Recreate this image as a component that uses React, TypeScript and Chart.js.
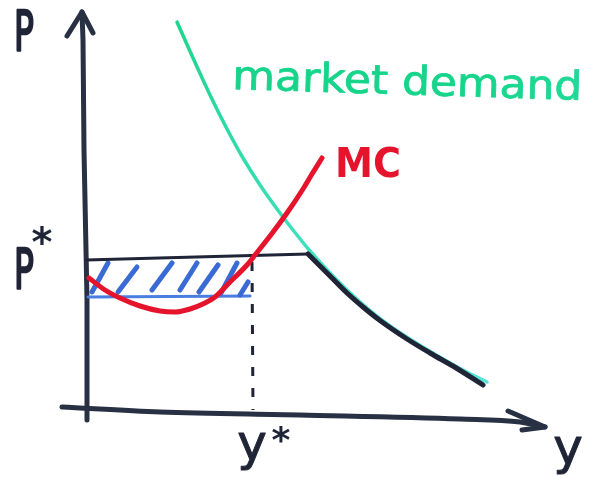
import { useEffect, useRef } from "react";
import { Chart, registerables } from "chart.js";

Chart.register(...registerables);

// ---- scale ranges (data units) ----
const X_MIN = -17.2;
const X_MAX = 100.6;
const Y_MIN = -13.4;
const Y_MAX = 82;

// ---- key levels ----
const P_STAR = 30;
const Y_STAR = 33.2;
const P_LOW = 22.6;
const P_LOW_X = [0.4, 32.8];

// ---- marginal cost curve ----
const mcX = [0.6, 3.8, 6.8, 10.8, 14.8, 17.8, 20.8, 23.8, 25.8, 28.8, 32.2, 33.8, 36.8, 40.2, 43.4, 45.2, 47.2];
const mcY = [26.4, 24, 22.4, 20.8, 19.8, 19.6, 20.2, 21.4, 22.6, 25.6, 29, 31, 34.8, 39.4, 44.2, 47.2, 50.4];

// ---- market demand curve ----
const demandX = [18.2, 21.4, 24.8, 28.2, 31.4, 34.8, 38.2, 41.4, 44.8, 48.8, 52.2, 56.2, 60.8, 65.4, 70.2, 75.4, 80.2];
const demandY = [77.6, 70.4, 63.0, 56.2, 50.4, 45.0, 40.2, 36.0, 31.8, 27.4, 24.0, 20.4, 16.8, 13.8, 10.9, 8.0, 5.6];

// ---- kinked (limit price) line: flat part at P*, then along demand ----
const flatX = [0, 22, 44.4];
const flatY = [30, 30.6, 31.2];
const residualX = [44.4, 46.2, 49.4, 52.2, 55.4, 58.8, 64.2, 68.8, 74.2, 79.4];
const residualY = [31.2, 29.4, 26.2, 23.4, 20.6, 17.9, 14.2, 11.4, 8.3, 5.0];

// ---- hatch strokes (bottom -> top) ----
const hatchX0 = [1.2, 6.4, 13.2, 18.8, 22.6, 27.0, 30.8];
const hatchY0 = [23.6, 23.6, 24.0, 24.0, 23.6, 23.4, 23.0];
const hatchX1 = [4.4, 10.2, 17.2, 22.2, 26.4, 30.2, 32.4];
const hatchY1 = [29.4, 28.6, 29.4, 29.4, 29.0, 29.4, 25.6];

// ---- axes (hand drawn) ----
const yAxisX = [0.2, 0.2, -0.4, -0.6, -0.8];
const yAxisY = [-2, 22, 52, 74, 79.6];
const yArrowX = [-3.8, -0.8, 1.4];
const yArrowY = [74.8, 79.6, 75.4];
const xAxisX = [-4.8, 14.8, 42.8, 74.8, 86.8, 91.8];
const xAxisY = [0.6, -0.4, -1, -1.8, -2.4, -3.4];
const xArrowX = [84.4, 91.8, 87.2];
const xArrowY = [-0.2, -3.4, -4];

// ---- text ----
const axisLabels = ["P", "y"];
const tickLabels = ["P", "y"];
const tickMark = "*";
const curveLabels = ["market demand", "MC"];

const RED = "#e5132b";
const INK = "#1f2436";
const AXIS = "#283044";
const BLUE = "#3a6ad4";
const BLUE_LINE = "#4a7de0";

const pts = (xs: number[], ys: number[]) => xs.map((x, i) => ({ x, y: ys[i] }));

const labelPlugin = {
  id: "handLabels",
  afterDatasetsDraw(chart: any) {
    const { ctx, scales } = chart;
    const X = (v: number) => scales.x.getPixelForValue(v);
    const Y = (v: number) => scales.y.getPixelForValue(v);

    const draw = (
      s: string,
      px: number,
      py: number,
      font: string,
      color: any,
      opts: { sx?: number; width?: number; rot?: number; align?: CanvasTextAlign; stroke?: number } = {}
    ) => {
      ctx.save();
      ctx.font = font;
      ctx.fillStyle = color;
      ctx.strokeStyle = color;
      ctx.textBaseline = "alphabetic";
      ctx.textAlign = opts.align || "left";
      ctx.translate(px, py);
      if (opts.rot) ctx.rotate((opts.rot * Math.PI) / 180);
      let sx = opts.sx ?? 1;
      if (opts.width) sx = opts.width / ctx.measureText(s).width;
      ctx.scale(sx, 1);
      ctx.fillText(s, 0, 0);
      if (opts.stroke) {
        ctx.lineWidth = opts.stroke;
        ctx.lineJoin = "round";
        ctx.strokeText(s, 0, 0);
      }
      ctx.restore();
    };

    const x0 = X(0);
    const y0 = Y(0);

    // axis labels
    draw(axisLabels[0], x0 - 62, Y(Y_MAX) + 50, "55px 'DejaVu Sans'", INK, { sx: 0.6, align: "center", stroke: 2.5 });
    draw(axisLabels[1], X(96.4), y0 + 54, "50px 'DejaVu Sans'", INK, { align: "center", stroke: 1 });

    // tick labels P*, y*
    const pp = Y(P_STAR);
    draw(tickLabels[0], x0 - 62, pp + 28, "55px 'DejaVu Sans'", INK, { sx: 0.6, align: "center", stroke: 2.5 });
    draw(tickMark, x0 - 44, pp - 4, "bold 40px 'DejaVu Sans'", INK, { align: "center" });
    const yx = X(Y_STAR);
    draw(tickLabels[1], yx, y0 + 50, "50px 'DejaVu Sans'", INK, { align: "center", stroke: 1 });
    draw(tickMark, yx + 29, y0 + 42, "bold 36px 'DejaVu Sans'", INK, { align: "center" });

    // curve labels
    const g = ctx.createLinearGradient(232, 0, 585, 0);
    g.addColorStop(0, "#16d58a");
    g.addColorStop(1, "#4ae3cc");
    draw(curveLabels[0], X(29.2), Y(64.2), "40px 'DejaVu Sans'", g, { width: 350, rot: 1.8, stroke: 0.8 });
    draw(curveLabels[1], X(49.8), Y(46.6), "bold 40px 'DejaVu Sans'", RED, { width: 66 });
  },
};

export default function App() {
  const ref = useRef<HTMLCanvasElement>(null);

  useEffect(() => {
    const canvas = ref.current;
    if (!canvas) return;

    const datasets: any[] = [];

    datasets.push({
      label: "MC",
      data: pts(mcX, mcY),
      borderColor: RED,
      borderWidth: 5,
      cubicInterpolationMode: "monotone",
      order: 1,
    });
    datasets.push({
      label: "flat",
      data: pts(flatX, flatY),
      borderColor: INK,
      borderWidth: 3,
      tension: 0,
      order: 2,
    });
    datasets.push({
      label: "residual",
      data: pts(residualX, residualY),
      borderColor: INK,
      borderWidth: 5,
      cubicInterpolationMode: "monotone",
      order: 2,
    });
    datasets.push({
      label: "demand",
      data: pts(demandX, demandY),
      borderColor: (c: any) => {
        const ch = c.chart;
        if (!ch.chartArea) return "#3ce0b8";
        const ys = ch.scales.y;
        const gr = ch.ctx.createLinearGradient(0, ys.getPixelForValue(78), 0, ys.getPixelForValue(5));
        gr.addColorStop(0, "#1cd58c");
        gr.addColorStop(1, "#55e7dc");
        return gr;
      },
      borderWidth: 3.5,
      cubicInterpolationMode: "monotone",
      order: 3,
    });
    for (let i = 0; i < hatchX0.length; i++) {
      datasets.push({
        label: "hatch" + i,
        data: [
          { x: hatchX0[i], y: hatchY0[i] },
          { x: hatchX1[i], y: hatchY1[i] },
        ],
        borderColor: BLUE,
        borderWidth: 5,
        order: 4,
      });
    }
    datasets.push({
      label: "pLow",
      data: [
        { x: P_LOW_X[0], y: P_LOW },
        { x: P_LOW_X[1], y: P_LOW + 0.2 },
      ],
      borderColor: BLUE_LINE,
      borderWidth: 3,
      order: 5,
    });
    datasets.push({
      label: "yStar",
      data: [
        { x: Y_STAR, y: P_STAR - 0.4 },
        { x: Y_STAR + 0.2, y: 0 },
      ],
      borderColor: INK,
      borderWidth: 3,
      borderDash: [9, 12],
      borderCapStyle: "butt",
      order: 6,
    });
    datasets.push({ label: "yAxis", data: pts(yAxisX, yAxisY), borderColor: AXIS, borderWidth: 5, order: 7 });
    datasets.push({ label: "yArrow", data: pts(yArrowX, yArrowY), borderColor: AXIS, borderWidth: 5, order: 7 });
    datasets.push({ label: "xAxis", data: pts(xAxisX, xAxisY), borderColor: AXIS, borderWidth: 5, cubicInterpolationMode: "monotone", order: 7 });
    datasets.push({ label: "xArrow", data: pts(xArrowX, xArrowY), borderColor: AXIS, borderWidth: 5, order: 7 });

    const chart = new Chart(canvas, {
      type: "line",
      data: { datasets },
      options: {
        animation: false,
        responsive: false,
        maintainAspectRatio: false,
        layout: { padding: 0 },
        events: [],
        plugins: { legend: { display: false }, tooltip: { enabled: false } },
        elements: {
          point: { radius: 0, hoverRadius: 0 },
          line: { borderCapStyle: "round", borderJoinStyle: "round", fill: false },
        },
        scales: {
          x: { type: "linear", min: X_MIN, max: X_MAX, display: false },
          y: { type: "linear", min: Y_MIN, max: Y_MAX, display: false },
        },
      },
      plugins: [labelPlugin],
    } as any);

    return () => chart.destroy();
  }, []);

  return (
    <div style={{ position: "absolute", left: 0, top: 0, width: 589, height: 477, background: "#fff" }}>
      <canvas ref={ref} width={589} height={477} style={{ display: "block" }} />
    </div>
  );
}
